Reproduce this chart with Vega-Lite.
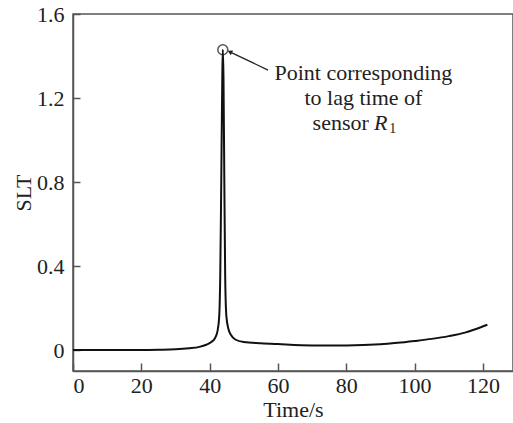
{
  "$schema": "https://vega.github.io/schema/vega-lite/v6.json",
  "width": 440,
  "height": 357,
  "autosize": {"type": "none"},
  "padding": {"left": 73, "top": 14, "right": 0, "bottom": 52},
  "background": "white",
  "config": {
    "view": {"stroke": "#555", "strokeWidth": 1.5},
    "font": "Liberation Serif",
    "axis": {
      "labelFont": "Liberation Serif",
      "titleFont": "Liberation Serif",
      "labelFontSize": 22,
      "titleFontSize": 22,
      "titleFontWeight": "normal",
      "labelColor": "#222",
      "titleColor": "#222",
      "domainColor": "#555",
      "domainWidth": 1.5,
      "tickColor": "#555",
      "tickWidth": 1.5,
      "grid": false
    }
  },
  "datasets": {
    "curve": [
      {"t": 0, "slt": 0},
      {"t": 10, "slt": 0},
      {"t": 20, "slt": 0},
      {"t": 25, "slt": 0.001},
      {"t": 30, "slt": 0.003},
      {"t": 34, "slt": 0.008},
      {"t": 37, "slt": 0.015},
      {"t": 39, "slt": 0.025},
      {"t": 40.5, "slt": 0.038},
      {"t": 41.5, "slt": 0.055},
      {"t": 42.3, "slt": 0.09},
      {"t": 42.8, "slt": 0.16},
      {"t": 43.1, "slt": 0.35},
      {"t": 43.4, "slt": 0.8},
      {"t": 43.7, "slt": 1.3},
      {"t": 43.85, "slt": 1.43},
      {"t": 44.05, "slt": 1.3},
      {"t": 44.3, "slt": 0.8},
      {"t": 44.55, "slt": 0.35},
      {"t": 44.9, "slt": 0.16},
      {"t": 45.5, "slt": 0.1},
      {"t": 46.3, "slt": 0.07},
      {"t": 47.5, "slt": 0.05},
      {"t": 50, "slt": 0.038},
      {"t": 55, "slt": 0.032},
      {"t": 60, "slt": 0.028},
      {"t": 70, "slt": 0.022},
      {"t": 80, "slt": 0.022},
      {"t": 90, "slt": 0.027},
      {"t": 95, "slt": 0.034},
      {"t": 100, "slt": 0.043},
      {"t": 105, "slt": 0.053},
      {"t": 110, "slt": 0.066},
      {"t": 115, "slt": 0.084},
      {"t": 118, "slt": 0.1},
      {"t": 121.3, "slt": 0.12}
    ],
    "peak": [{"t": 43.85, "slt": 1.43}],
    "arrow": [{"t": 57.1, "slt": 1.333, "t2": 45.9, "slt2": 1.42}],
    "arrowhead": [{"t": 45.9, "slt": 1.42}],
    "label12": [{"t": 85.0, "slt": 1.285, "txt": ["Point corresponding", "to lag time of"]}],
    "label3": [{"t": 86.6, "slt": 1.046, "txt": "sensor"}],
    "labelR": [{"t": 88.1, "slt": 1.046, "txt": "R"}],
    "label1": [{"t": 92.6, "slt": 1.032, "txt": "1"}]
  },
  "layer": [
    {
      "data": {"name": "curve"},
      "mark": {"type": "line", "color": "#111", "strokeWidth": 2, "interpolate": "monotone", "clip": true},
      "encoding": {
        "x": {
          "field": "t", "type": "quantitative",
          "scale": {"domain": [0, 128.8], "nice": false, "zero": false},
          "axis": {"values": [0, 20, 40, 60, 80, 100, 120], "tickSize": -8, "labelPadding": 12, "title": "Time/s", "titlePadding": 3}
        },
        "y": {
          "field": "slt", "type": "quantitative",
          "scale": {"domain": [-0.1, 1.6], "nice": false, "zero": false},
          "axis": {"values": [0, 0.4, 0.8, 1.2, 1.6], "tickSize": -7, "labelPadding": 16, "title": "SLT", "titlePadding": 1,
            "labelExpr": "datum.value == 0 ? '0' : format(datum.value, '.1f')"}
        }
      }
    },
    {
      "data": {"name": "peak"},
      "mark": {"type": "point", "shape": "circle", "size": 100, "stroke": "#111", "strokeWidth": 1.5, "filled": false},
      "encoding": {"x": {"field": "t", "type": "quantitative"}, "y": {"field": "slt", "type": "quantitative"}}
    },
    {
      "data": {"name": "arrow"},
      "mark": {"type": "rule", "color": "#222", "strokeWidth": 1.3},
      "encoding": {
        "x": {"field": "t", "type": "quantitative"}, "y": {"field": "slt", "type": "quantitative"},
        "x2": {"field": "t2"}, "y2": {"field": "slt2"}
      }
    },
    {
      "data": {"name": "arrowhead"},
      "mark": {"type": "point", "shape": "triangle-up", "size": 30, "filled": true, "color": "#222", "opacity": 1, "angle": 296},
      "encoding": {"x": {"field": "t", "type": "quantitative"}, "y": {"field": "slt", "type": "quantitative"}}
    },
    {
      "data": {"name": "label12"},
      "mark": {"type": "text", "font": "Liberation Serif", "fontSize": 22, "align": "center", "baseline": "alphabetic", "lineHeight": 25, "color": "#222"},
      "encoding": {"x": {"field": "t", "type": "quantitative"}, "y": {"field": "slt", "type": "quantitative"}, "text": {"field": "txt"}}
    },
    {
      "data": {"name": "label3"},
      "mark": {"type": "text", "font": "Liberation Serif", "fontSize": 22, "align": "right", "baseline": "alphabetic", "color": "#222"},
      "encoding": {"x": {"field": "t", "type": "quantitative"}, "y": {"field": "slt", "type": "quantitative"}, "text": {"field": "txt"}}
    },
    {
      "data": {"name": "labelR"},
      "mark": {"type": "text", "font": "Liberation Serif", "fontSize": 22, "fontStyle": "italic", "align": "left", "baseline": "alphabetic", "color": "#222"},
      "encoding": {"x": {"field": "t", "type": "quantitative"}, "y": {"field": "slt", "type": "quantitative"}, "text": {"field": "txt"}}
    },
    {
      "data": {"name": "label1"},
      "mark": {"type": "text", "font": "Liberation Serif", "fontSize": 14, "align": "left", "baseline": "alphabetic", "color": "#222"},
      "encoding": {"x": {"field": "t", "type": "quantitative"}, "y": {"field": "slt", "type": "quantitative"}, "text": {"field": "txt"}}
    }
  ]
}
